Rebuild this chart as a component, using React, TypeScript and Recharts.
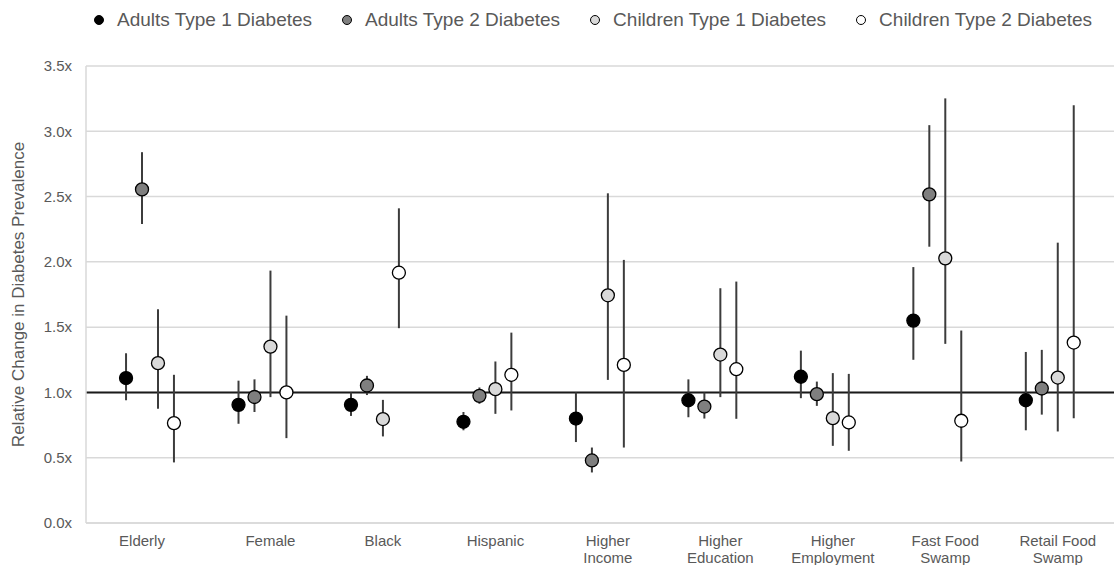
import React from "react";
import {
  ScatterChart, Scatter, XAxis, YAxis, CartesianGrid, ReferenceLine, ErrorBar, Legend, Label,
} from "recharts";

const FONT = '"Liberation Sans", Arial, sans-serif';

const categories = [
  "Elderly", "Female", "Black", "Hispanic", "Higher\nIncome", "Higher\nEducation",
  "Higher\nEmployment", "Fast Food\nSwamp", "Retail Food\nSwamp",
];

// point estimates + confidence bounds
const adultsT1 = [1.11, 0.905, 0.905, 0.775, 0.8, 0.94, 1.12, 1.55, 0.94];
const adultsT1Low = [0.94, 0.76, 0.82, 0.71, 0.62, 0.81, 0.956, 1.25, 0.71];
const adultsT1High = [1.3, 1.09, 1.0, 0.85, 1.0, 1.1, 1.32, 1.96, 1.31];

const adultsT2 = [2.555, 0.965, 1.053, 0.974, 0.479, 0.892, 0.987, 2.517, 1.03];
const adultsT2Low = [2.29, 0.85, 0.98, 0.913, 0.387, 0.8, 0.897, 2.116, 0.83];
const adultsT2High = [2.84, 1.1, 1.127, 1.038, 0.578, 1.0, 1.083, 3.047, 1.326];

const childrenT1 = [1.224, 1.351, 0.796, 1.025, 1.744, 1.29, 0.803, 2.027, 1.114];
const childrenT1Low = [0.875, 0.964, 0.663, 0.836, 1.096, 0.964, 0.591, 1.372, 0.701];
const childrenT1High = [1.637, 1.933, 0.943, 1.237, 2.525, 1.798, 1.148, 3.252, 2.147];

const childrenT2 = [0.765, 1.0, 1.917, 1.135, 1.211, 1.178, 0.77, 0.783, 1.382];
const childrenT2Low = [0.464, 0.65, 1.492, 0.862, 0.578, 0.798, 0.553, 0.471, 0.803];
const childrenT2High = [1.135, 1.588, 2.41, 1.458, 2.015, 1.849, 1.142, 1.474, 3.2];

const yTicks = [0, 0.5, 1, 1.5, 2, 2.5, 3, 3.5];
const xTicks = categories.map((_, i) => i);

const SERIES = [
  { name: "Adults Type 1 Diabetes", values: adultsT1, low: adultsT1Low, high: adultsT1High, fill: "#000000", offset: -0.284 },
  { name: "Adults Type 2 Diabetes", values: adultsT2, low: adultsT2Low, high: adultsT2High, fill: "#7f7f7f", offset: -0.142 },
  { name: "Children Type 1 Diabetes", values: childrenT1, low: childrenT1Low, high: childrenT1High, fill: "#d9d9d9", offset: 0 },
  { name: "Children Type 2 Diabetes", values: childrenT2, low: childrenT2Low, high: childrenT2High, fill: "#ffffff", offset: 0.142 },
];

const buildPoints = (s: (typeof SERIES)[number]) =>
  categories.map((_, i) => ({
    x: i + s.offset,
    y: s.values[i],
    err: [s.values[i] - s.low[i], s.high[i] - s.values[i]],
  }));

const Dot = (props: any) => {
  const { cx, cy, fill } = props;
  if (cx == null || cy == null) return null;
  return <circle cx={cx} cy={cy} r={6.5} fill={fill} stroke="#000" strokeWidth={1.3} />;
};

const CatTick = (props: any) => {
  const { x, y, payload } = props;
  const lines = (categories[payload.value] ?? "").split("\n");
  // first label sits a bit left of its slot in the original
  const tx = payload.value === 0 ? x - 16 : x;
  return (
    <text x={tx} y={y} textAnchor="middle" fill="#595959" fontSize={15} fontFamily={FONT}>
      {lines.map((l, k) => (
        <tspan key={k} x={tx} dy={k === 0 ? 15 : 17}>{l}</tspan>
      ))}
    </text>
  );
};

const LegendContent = () => (
  <div style={{ display: "flex", alignItems: "center", paddingLeft: 93, fontSize: 19, color: "#595959", fontFamily: FONT }}>
    {SERIES.map((s) => (
      <div key={s.name} style={{ display: "flex", alignItems: "center", marginRight: 29 }}>
        <svg width={12} height={12}>
          <circle cx={6} cy={6} r={4.5} fill={s.fill} stroke="#000" strokeWidth={1} />
        </svg>
        <span style={{ marginLeft: 12, whiteSpace: "nowrap" }}>{s.name}</span>
      </div>
    ))}
  </div>
);

export default function App() {
  return (
    <div style={{ position: "absolute", left: 0, top: 0, background: "#fff", fontFamily: FONT }}>
      <ScatterChart width={1114} height={565} margin={{ top: 66, right: 0, bottom: 0, left: 0 }}>
        <CartesianGrid vertical={false} stroke="#d9d9d9" strokeWidth={1.5} />
        <XAxis
          type="number"
          dataKey="x"
          domain={[-0.64, 8.5]}
          ticks={xTicks}
          interval={0}
          allowDataOverflow
          tickLine={false}
          axisLine={{ stroke: "#d9d9d9", strokeWidth: 1.5 }}
          tick={<CatTick />}
          height={42}
        />
        <YAxis
          type="number"
          dataKey="y"
          domain={[0, 3.5]}
          ticks={yTicks}
          allowDataOverflow
          tickFormatter={(v: number) => `${v.toFixed(1)}x`}
          tickLine={false}
          tickSize={0}
          tickMargin={14}
          axisLine={{ stroke: "#d9d9d9", strokeWidth: 1.5 }}
          tick={{ fill: "#595959", fontSize: 15, fontFamily: FONT }}
          width={86}
        >
          <Label
            value="Relative Change in Diabetes Prevalence"
            angle={-90}
            position="center"
            dx={-25}
            style={{ fill: "#595959", fontSize: 17, fontFamily: FONT }}
          />
        </YAxis>
        <Legend
          layout="horizontal"
          verticalAlign="middle"
          align="center"
          content={<LegendContent />}
          wrapperStyle={{ top: 9, left: 0, width: 1114 }}
        />
        <ReferenceLine y={1} stroke="#1a1a1a" strokeWidth={2} />
        {SERIES.map((s) => (
          <Scatter
            key={s.name}
            name={s.name}
            data={buildPoints(s)}
            fill={s.fill}
            shape={<Dot />}
            isAnimationActive={false}
          >
            <ErrorBar dataKey="err" direction="y" width={0} stroke="#3c3c3c" strokeWidth={2} isAnimationActive={false} />
          </Scatter>
        ))}
      </ScatterChart>
    </div>
  );
}
